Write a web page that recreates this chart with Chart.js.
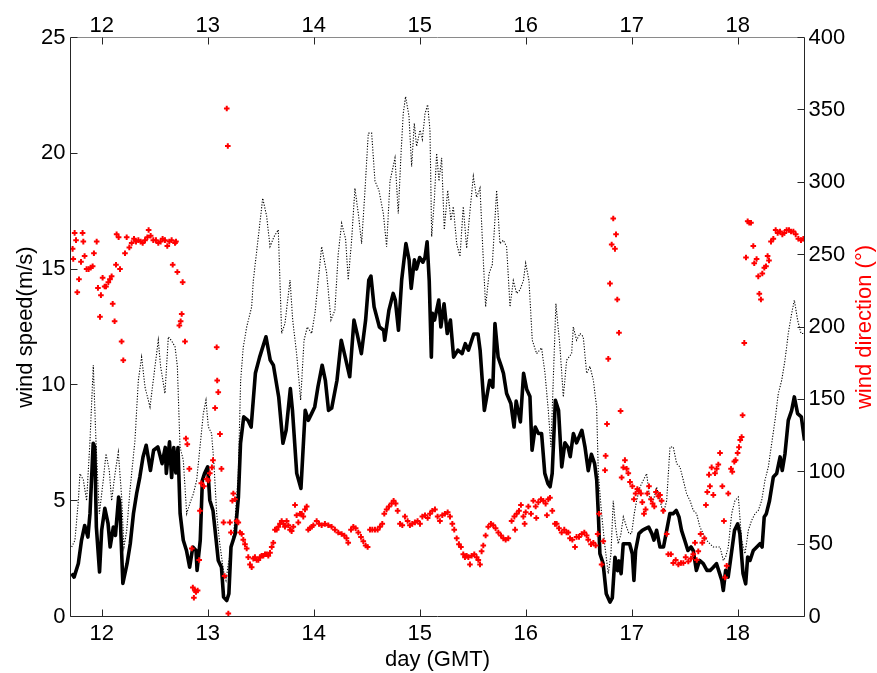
<!DOCTYPE html>
<html>
<head>
<meta charset="utf-8">
<script src="https://cdn.jsdelivr.net/npm/chart.js@4.4.1/dist/chart.umd.min.js"></script>
<style>
  html, body { margin: 0; padding: 0; background: #ffffff; }
  #wrap { width: 877px; height: 673px; }
</style>
</head>
<body>
<div id="wrap"><canvas id="chart" width="877" height="673"></canvas></div>
<script>
// Tick positions for the four axes
const dayTicks = [12, 13, 14, 15, 16, 17, 18];
const speedTicks = [0, 5, 10, 15, 20, 25];
const dirTicks = [0, 50, 100, 150, 200, 250, 300, 350, 400];

// Mean wind speed (m/s) against day of month (GMT)
const speedDay = [
  11.716, 11.74, 11.78, 11.81, 11.84, 11.87, 11.89, 11.92, 11.935, 11.95,
  11.98, 12.00, 12.03, 12.06, 12.08, 12.11, 12.13, 12.16, 12.17, 12.20,
  12.24, 12.27, 12.30, 12.33, 12.36, 12.39, 12.42, 12.46, 12.49, 12.53,
  12.57, 12.60, 12.61, 12.64, 12.66, 12.68, 12.70, 12.72, 12.74, 12.77,
  12.80, 12.83, 12.86, 12.89, 12.90, 12.93, 12.95, 12.97, 13.00, 13.02,
  13.05, 13.08, 13.10, 13.13, 13.15, 13.18, 13.20, 13.22, 13.26, 13.29,
  13.31, 13.34, 13.38, 13.41, 13.45, 13.49, 13.55, 13.59, 13.62, 13.67,
  13.71, 13.74, 13.78, 13.80, 13.84, 13.88, 13.92, 13.95, 13.98, 14.01,
  14.04, 14.08, 14.11, 14.14, 14.17, 14.22, 14.26, 14.29, 14.34, 14.38,
  14.41, 14.45, 14.49, 14.52, 14.54, 14.57, 14.62, 14.66, 14.67, 14.71,
  14.75, 14.77, 14.80, 14.83, 14.87, 14.90, 14.92, 14.95, 14.97, 15.00,
  15.03, 15.05, 15.07, 15.09, 15.11, 15.12, 15.14, 15.18, 15.20, 15.23,
  15.26, 15.29, 15.32, 15.36, 15.40, 15.43, 15.46, 15.51, 15.55, 15.57,
  15.61, 15.66, 15.69, 15.71, 15.74, 15.77, 15.79, 15.82, 15.86, 15.89,
  15.91, 15.95, 15.98, 16.01, 16.04, 16.06, 16.09, 16.12, 16.15, 16.18,
  16.21, 16.23, 16.25, 16.28, 16.31, 16.34, 16.37, 16.40, 16.42, 16.45,
  16.48, 16.53, 16.56, 16.59, 16.62, 16.65, 16.67, 16.685, 16.70, 16.73,
  16.76, 16.795, 16.817, 16.842, 16.867, 16.88, 16.90, 16.92, 16.95, 16.98,
  17.006, 17.021, 17.037, 17.068, 17.10, 17.13, 17.16, 17.19, 17.21, 17.235,
  17.267, 17.30, 17.33, 17.36, 17.39, 17.42, 17.446, 17.47, 17.50, 17.53,
  17.56, 17.58, 17.61, 17.64, 17.675, 17.71, 17.74, 17.77, 17.80, 17.82,
  17.85, 17.864, 17.886, 17.91, 17.94, 17.97, 18.00, 18.02, 18.05, 18.075,
  18.094, 18.116, 18.147, 18.18, 18.21, 18.23, 18.25, 18.27, 18.30, 18.336,
  18.367, 18.40, 18.42, 18.446, 18.477, 18.509, 18.534, 18.565, 18.60, 18.63
];
const speedVal = [
  1.86, 1.70, 2.29, 3.29, 3.93, 3.43, 4.45, 7.48, 7.32, 3.86,
  1.92, 3.72, 4.67, 4.02, 3.0, 3.86, 3.5, 5.16, 4.9, 1.43,
  2.29, 3.15, 4.45, 5.31, 6.02, 6.89, 7.39, 6.31, 7.18, 7.32,
  6.6, 7.3, 6.18, 7.54, 6.0, 7.3, 6.2, 7.3, 4.45, 3.29,
  2.85, 2.13, 3.0, 2.85, 1.99, 3.29, 5.88, 6.17, 6.46, 5.02,
  4.58, 3.29, 2.42, 2.13, 0.84, 0.69, 0.98, 3.0, 3.58, 5.16,
  7.48, 8.62, 8.47, 8.18, 10.5, 11.2, 12.08, 11.07, 10.85, 9.48,
  7.48, 8.04, 9.84, 8.9, 6.18, 5.53, 8.9, 8.47, 8.76, 9.05,
  9.91, 10.85, 10.2, 8.9, 9.0, 10.2, 11.93, 11.35, 10.35, 12.8,
  12.2, 11.35, 12.8, 14.53, 14.7, 13.37, 12.5, 12.36, 11.93, 13.23,
  13.95, 13.66, 12.36, 14.53, 16.1, 15.4, 14.17, 15.4, 15.0, 15.5,
  15.3, 15.5, 16.18, 14.5, 11.2, 13.09, 12.8, 13.66, 12.5, 13.5,
  12.22, 12.8, 11.2, 11.5, 11.35, 11.78, 11.5, 12.2, 12.2, 11.5,
  8.9, 10.2, 9.9, 12.65, 11.2, 10.8, 10.5, 9.63, 9.2, 8.18,
  9.3, 8.4, 10.5, 9.8, 9.5, 7.18, 8.18, 7.9, 7.9, 6.18,
  5.73, 5.6, 6.18, 9.34, 8.9, 6.46, 7.5, 7.3, 6.9, 7.9,
  7.5, 8.04, 7.3, 6.3, 7.0, 6.6, 5.88, 4.44, 2.71, 2.3,
  0.98, 0.62, 0.8, 2.56, 1.98, 2.4, 1.85, 3.14, 3.14, 3.14,
  2.7, 1.56, 2.85, 3.58, 3.72, 3.79, 3.86, 3.58, 3.3, 3.72,
  3.0, 3.0, 3.72, 4.44, 4.44, 4.58, 4.3, 3.72, 3.29, 2.85,
  3.0, 2.85, 1.99, 2.42, 2.28, 1.99, 1.99, 2.13, 2.28, 1.99,
  1.56, 1.12, 1.99, 1.7, 2.71, 3.72, 4.0, 3.58, 1.85, 1.41,
  2.57, 2.42, 2.85, 3.0, 3.14, 3.0, 4.3, 4.44, 5.0, 6.02,
  6.17, 6.89, 6.31, 7.03, 8.47, 8.9, 9.48, 8.76, 8.62, 7.6
];

// Gust speed (m/s), drawn dotted
const gustDay = [
  11.717, 11.748, 11.78, 11.795, 11.827, 11.858, 11.89, 11.921, 11.946, 11.978,
  12.015, 12.041, 12.072, 12.094, 12.126, 12.157, 12.188, 12.21, 12.236, 12.267,
  12.314, 12.346, 12.377, 12.409, 12.456, 12.487, 12.534, 12.556, 12.597, 12.629,
  12.66, 12.692, 12.714, 12.739, 12.77, 12.802, 12.833, 12.865, 12.896, 12.927,
  12.959, 12.984, 13.006, 13.037, 13.059, 13.085, 13.11, 13.148, 13.173, 13.195,
  13.226, 13.258, 13.289, 13.311, 13.336, 13.368, 13.415, 13.431, 13.478, 13.519,
  13.556, 13.588, 13.626, 13.666, 13.698, 13.729, 13.777, 13.802, 13.839, 13.877,
  13.909, 13.94, 13.981, 14.012, 14.075, 14.122, 14.163, 14.2, 14.232, 14.264,
  14.301, 14.326, 14.358, 14.389, 14.421, 14.452, 14.484, 14.515, 14.547, 14.578,
  14.616, 14.657, 14.688, 14.72, 14.767, 14.798, 14.823, 14.845, 14.867, 14.899,
  14.924, 14.949, 14.971, 15.003, 15.025, 15.05, 15.075, 15.097, 15.113, 15.138,
  15.16, 15.182, 15.207, 15.232, 15.264, 15.295, 15.317, 15.349, 15.38, 15.411,
  15.443, 15.474, 15.506, 15.537, 15.569, 15.6, 15.622, 15.654, 15.685, 15.726,
  15.757, 15.789, 15.82, 15.852, 15.883, 15.915, 15.946, 15.978, 16.0, 16.031,
  16.062, 16.103, 16.15, 16.182, 16.213, 16.238, 16.26, 16.285, 16.323, 16.355,
  16.386, 16.433, 16.449, 16.48, 16.512, 16.543, 16.575, 16.606, 16.638, 16.669,
  16.685, 16.716, 16.748, 16.779, 16.804, 16.826, 16.848, 16.873, 16.899, 16.921,
  16.952, 16.974, 16.999, 17.024, 17.046, 17.078, 17.109, 17.141, 17.172, 17.204,
  17.235, 17.267, 17.298, 17.33, 17.361, 17.392, 17.424, 17.455, 17.487, 17.518,
  17.55, 17.581, 17.612, 17.644, 17.675, 17.707, 17.738, 17.77, 17.801, 17.833,
  17.864, 17.886, 17.911, 17.943, 17.974, 18.006, 18.037, 18.069, 18.1, 18.131,
  18.163, 18.194, 18.226, 18.257, 18.289, 18.32, 18.352, 18.383, 18.415, 18.446,
  18.477, 18.509, 18.534, 18.565, 18.597, 18.628
];
const gustVal = [
  3.0, 3.3, 5.0, 6.17, 5.9, 5.0, 7.6, 10.85, 7.6, 4.44,
  5.88, 7.03, 6.3, 5.0, 6.17, 7.1, 5.2, 3.0, 3.7, 5.45,
  7.6, 10.2, 11.2, 9.9, 9.05, 10.2, 11.93, 10.8, 9.63, 12.08,
  11.9, 11.65, 10.8, 7.32, 6.75, 4.44, 4.9, 5.3, 5.88, 7.3,
  8.76, 9.34, 8.2, 7.9, 6.6, 4.44, 3.3, 1.99, 1.56, 2.28,
  3.0, 4.15, 6.17, 10.2, 11.64, 12.5, 13.37, 14.53, 16.4, 18.06,
  17.3, 15.97, 16.4, 16.7, 12.22, 12.65, 14.53, 12.8, 11.35, 9.34,
  11.93, 12.5, 12.22, 13.09, 15.97, 14.85, 12.8, 13.23, 15.68, 16.98,
  16.3, 14.53, 16.25, 18.49, 17.4, 16.1, 18.4, 20.87, 20.87, 18.8,
  18.4, 17.4, 15.97, 18.8, 19.8, 17.4, 19.9, 21.73, 22.45, 21.6,
  19.43, 21.3, 20.3, 21.0, 20.6, 21.7, 22.1, 21.0, 16.4, 17.97,
  20.0, 18.8, 19.8, 16.7, 18.4, 17.1, 17.7, 16.1, 15.54, 17.7,
  15.9, 17.5, 19.0, 18.1, 18.5, 15.4, 13.37, 14.8, 15.2, 18.4,
  16.1, 16.25, 15.97, 13.37, 14.5, 13.95, 14.1, 14.5, 15.25, 14.5,
  11.93, 11.35, 11.6, 10.5, 8.9, 7.32, 10.2, 13.5, 11.65, 9.48,
  11.07, 11.35, 12.5, 11.93, 12.22, 12.08, 10.5, 10.8, 10.2, 9.05,
  6.17, 4.44, 3.0, 1.85, 2.7, 5.0, 3.86, 3.14, 3.58, 4.3,
  3.86, 3.58, 3.58, 4.44, 5.0, 5.59, 5.88, 6.17, 5.0, 5.0,
  5.59, 5.0, 4.44, 5.0, 7.32, 7.32, 6.6, 6.46, 5.88, 5.3,
  5.0, 4.58, 4.44, 3.86, 3.58, 3.29, 3.14, 3.0, 3.0, 3.0,
  2.42, 2.57, 3.0, 4.44, 5.0, 5.16, 3.29, 2.71, 3.72, 4.15,
  4.44, 4.58, 5.0, 5.88, 6.46, 7.46, 8.47, 9.63, 10.2, 11.07,
  12.22, 13.09, 13.66, 12.8, 12.22, 12.22
];

// Wind direction (degrees), right axis
const dirDay = [
  11.726, 11.732, 11.745, 11.758, 11.770, 11.786, 11.805, 11.820, 11.827, 11.839,
  11.858, 11.877, 11.896, 11.915, 11.927, 11.953, 11.965, 11.984, 11.993, 12.009,
  12.028, 12.041, 12.063, 12.078, 12.094, 12.104, 12.122, 12.135, 12.141, 12.160,
  12.173, 12.188, 12.204, 12.220, 12.236, 12.261, 12.283, 12.305, 12.324, 12.346,
  12.368, 12.387, 12.409, 12.431, 12.443, 12.462, 12.487, 12.512, 12.534, 12.556,
  12.575, 12.597, 12.619, 12.638, 12.660, 12.670, 12.692, 12.701, 12.714, 12.733,
  12.745, 12.755, 12.764, 12.786, 12.795, 12.808, 12.827, 12.85, 12.86, 12.87,
  12.88, 12.89, 12.905, 12.92, 12.927, 12.94, 12.965, 12.99, 13.006, 13.02,
  13.04, 13.05, 13.07, 13.085, 13.09, 13.10, 13.116, 13.13, 13.15, 13.16,
  13.18, 13.19, 13.195, 13.21, 13.22, 13.233, 13.242, 13.258, 13.273, 13.289,
  13.305, 13.321, 13.336, 13.352, 13.368, 13.383, 13.399, 13.415, 13.431, 13.446,
  13.462, 13.478, 13.494, 13.509, 13.525, 13.541, 13.557, 13.572, 13.588, 13.604,
  13.619, 13.635, 13.651, 13.667, 13.682, 13.698, 13.714, 13.729, 13.745, 13.761,
  13.777, 13.792, 13.808, 13.824, 13.839, 13.855, 13.871, 13.887, 13.902, 13.918,
  13.934, 13.949, 13.965, 13.981, 13.997, 14.028, 14.05, 14.075, 14.106, 14.138,
  14.169, 14.2, 14.232, 14.264, 14.289, 14.31, 14.326, 14.352, 14.374, 14.396,
  14.421, 14.446, 14.468, 14.49, 14.509, 14.531, 14.553, 14.578, 14.603, 14.625,
  14.647, 14.666, 14.688, 14.71, 14.735, 14.754, 14.773, 14.792, 14.814, 14.836,
  14.861, 14.886, 14.908, 14.93, 14.955, 14.98, 15.003, 15.025, 15.05, 15.075,
  15.097, 15.119, 15.144, 15.169, 15.191, 15.213, 15.238, 15.264, 15.286, 15.308,
  15.326, 15.349, 15.37, 15.389, 15.411, 15.427, 15.443, 15.459, 15.474, 15.49,
  15.515, 15.537, 15.553, 15.569, 15.584, 15.6, 15.622, 15.647, 15.672, 15.694,
  15.716, 15.742, 15.767, 15.789, 15.811, 15.836, 15.867, 15.893, 15.90, 15.915,
  15.937, 15.955, 15.978, 15.99, 16.0, 16.025, 16.05, 16.072, 16.094, 16.10,
  16.119, 16.144, 16.166, 16.188, 16.20, 16.213, 16.229, 16.251, 16.276, 16.292,
  16.314, 16.339, 16.364, 16.386, 16.402, 16.418, 16.44, 16.465, 16.48, 16.503,
  16.528, 16.553, 16.575, 16.59, 16.616, 16.638, 16.66, 16.679, 16.691, 16.716,
  16.732, 16.748, 16.754, 16.767, 16.779, 16.795, 16.811, 16.826, 16.842, 16.852,
  16.864, 16.88, 16.895, 16.905, 16.921, 16.936, 16.952, 16.968, 16.984, 17.006,
  17.021, 17.037, 17.053, 17.068, 17.087, 17.1, 17.116, 17.131, 17.147, 17.163,
  17.182, 17.197, 17.213, 17.229, 17.251, 17.267, 17.282, 17.298, 17.33, 17.345,
  17.37, 17.392, 17.415, 17.44, 17.465, 17.487, 17.509, 17.534, 17.559, 17.581,
  17.597, 17.613, 17.628, 17.65, 17.666, 17.685, 17.7, 17.713, 17.729, 17.738,
  17.754, 17.77, 17.786, 17.801, 17.817, 17.833, 17.855, 17.87, 17.88, 17.896,
  17.911, 17.937, 17.949, 17.968, 17.98, 17.999, 18.012, 18.024, 18.037, 18.046,
  18.062, 18.078, 18.094, 18.109, 18.125, 18.147, 18.156, 18.178, 18.194, 18.204,
  18.219, 18.232, 18.251, 18.267, 18.282, 18.295, 18.314, 18.336, 18.358, 18.377,
  18.399, 18.421, 18.44, 18.462, 18.484, 18.503, 18.525, 18.547, 18.572, 18.597,
  18.619
];
const dirVal = [
  254, 247, 265, 260, 224, 233, 245, 265, 259, 249,
  240, 240, 241, 242, 251, 259, 227, 207, 222, 234,
  228, 228, 231, 233, 235, 216, 204, 243, 264, 262,
  240, 190, 177, 251, 262, 255, 258, 261, 259, 260,
  259, 258, 260, 262, 267, 263, 260, 260, 258, 259,
  261, 260, 256, 259, 260, 243, 258, 259, 238, 201,
  204, 209, 231, 190, 123, 119, 102, 47, 20, 13,
  18, 17, 18, 39, 73, 92, 90, 95, 94, 99,
  103, 108, 144, 186, 163, 155, 126, 102, 65, 28,
  351, 325, 2, 65, 58, 80, 85, 81, 66, 65,
  58, 57, 53, 50, 47, 41, 36, 34, 40, 41,
  39, 39, 41, 42, 42, 43, 43, 42, 44, 48,
  51, 60, 60, 62, 64, 66, 64, 62, 66, 63,
  60, 59, 62, 77, 70, 65, 71, 71, 69, 74,
  76, 60, 61, 62, 63, 66, 64, 63, 64, 63,
  62, 60, 58, 57, 56, 54, 51, 60, 62, 61,
  58, 55, 52, 49, 48, 60, 60, 60, 60, 62,
  64, 71, 74, 76, 78, 80, 78, 73, 64, 63,
  69, 66, 63, 64, 65, 66, 64, 69, 70, 68,
  71, 73, 74, 69, 66, 70, 71, 72, 69, 64,
  60, 54, 50, 48, 43, 41, 42, 41, 36, 42,
  43, 41, 39, 36, 45, 49, 56, 62, 64, 63,
  61, 58, 56, 54, 53, 54, 66, 69, 60, 71,
  73, 77, 69, 64, 72, 76, 71, 80, 76, 68,
  79, 81, 80, 78, 70, 81, 82, 73, 64, 64,
  61, 58, 60, 58, 58, 54, 53, 48, 55, 55,
  57, 58, 56, 53, 50, 51, 49, 57, 71, 36,
  52, 101, 111, 133, 178, 230, 257, 275, 254, 264,
  219, 196, 142, 96, 103, 108, 102, 99, 93, 90,
  81, 85, 88, 87, 85, 79, 71, 74, 85, 90,
  81, 78, 76, 86, 83, 84, 80, 73, 57, 43,
  43, 37, 39, 36, 37, 37, 41, 38, 40, 43,
  51, 39, 45, 57, 51, 54, 77, 86, 98, 90,
  103, 84, 99, 102, 105, 113, 90, 66, 27, 35,
  85, 102, 100, 107, 108, 113, 117, 122, 124, 139,
  189, 248, 273, 272, 272, 256, 244, 247, 235, 223,
  219, 237, 241, 242, 249, 246, 259, 261, 267, 265,
  266, 264, 265, 267, 267, 266, 266, 264, 261, 260,
  261
];

const FONT = '"Liberation Sans", Arial, Helvetica, sans-serif';
const toPoints = (xs, ys) => xs.map((x, i) => ({ x: x, y: ys[i] }));
const fixedTicks = list => scale => { scale.ticks = list.map(v => ({ value: v })); };

// Frame, inward tick marks and axis titles
const framePlugin = {
  id: 'framePlugin',
  afterDatasetsDraw(chart) {
    const { ctx, chartArea: a, scales } = chart;
    const L = a.left, R = a.right, T = a.top, B = a.bottom;
    const len = 7;
    ctx.save();
    ctx.lineWidth = 1;
    ctx.strokeStyle = '#262626';
    ctx.beginPath();
    ctx.moveTo(L, T); ctx.lineTo(L, B); ctx.lineTo(R, B); ctx.lineTo(R, T);
    ctx.stroke();
    ctx.strokeStyle = '#8a8a8a';
    ctx.beginPath();
    ctx.moveTo(L, T); ctx.lineTo(R, T);
    ctx.stroke();
    ctx.strokeStyle = '#262626';
    ctx.beginPath();
    dayTicks.forEach(v => {
      const x = Math.round(scales.x.getPixelForValue(v)) + 0.5;
      ctx.moveTo(x, B); ctx.lineTo(x, B - len);
      ctx.moveTo(x, T); ctx.lineTo(x, T + len);
    });
    speedTicks.forEach(v => {
      const y = Math.round(scales.y.getPixelForValue(v) - 0.5) + 0.5;
      ctx.moveTo(L, y); ctx.lineTo(L + len, y);
    });
    dirTicks.forEach(v => {
      const y = Math.round(scales.y2.getPixelForValue(v) - 0.5) + 0.5;
      ctx.moveTo(R, y); ctx.lineTo(R - len, y);
    });
    ctx.stroke();
    ctx.restore();
  },
  afterDraw(chart) {
    const { ctx, chartArea: a } = chart;
    const midY = (a.top + a.bottom) / 2;
    ctx.save();
    ctx.font = '22px ' + FONT;
    ctx.textAlign = 'center';
    ctx.textBaseline = 'middle';
    ctx.fillStyle = '#000';
    ctx.fillText('day (GMT)', (a.left + a.right) / 2, 660);
    ctx.save();
    ctx.translate(26, midY);
    ctx.rotate(-Math.PI / 2);
    ctx.fillText('wind speed(m/s)', 0, 0);
    ctx.restore();
    ctx.save();
    ctx.translate(865, midY);
    ctx.rotate(-Math.PI / 2);
    ctx.fillStyle = '#ff0000';
    ctx.fillText('wind direction (\u00B0)', 0, 0);
    ctx.restore();
    ctx.restore();
  }
};

const tickFont = { family: FONT, size: 22 };
const noGrid = { display: false, drawTicks: false, tickLength: 0 };

new Chart(document.getElementById('chart'), {
  type: 'scatter',
  data: {
    datasets: [
      {
        label: 'wind direction',
        data: toPoints(dirDay, dirVal),
        yAxisID: 'y2',
        showLine: false,
        pointStyle: 'cross',
        pointRadius: 2.8,
        pointBorderWidth: 2,
        pointBorderColor: '#ff0000',
        pointBackgroundColor: '#ff0000',
        order: 0
      },
      {
        label: 'wind speed',
        data: toPoints(speedDay, speedVal),
        yAxisID: 'y',
        showLine: true,
        borderColor: '#000000',
        borderWidth: 3.6,
        borderJoinStyle: 'round',
        pointRadius: 0,
        tension: 0,
        order: 1
      },
      {
        label: 'gust',
        data: toPoints(gustDay, gustVal),
        yAxisID: 'y',
        showLine: true,
        borderColor: '#000000',
        borderWidth: 1.1,
        borderDash: [1.2, 1.6],
        pointRadius: 0,
        tension: 0,
        order: 2
      }
    ]
  },
  options: {
    responsive: false,
    animation: false,
    devicePixelRatio: 1,
    layout: { padding: 0 },
    plugins: { legend: { display: false }, tooltip: { enabled: false } },
    scales: {
      x: {
        type: 'linear', position: 'bottom', min: 11.706, max: 18.63,
        afterBuildTicks: fixedTicks(dayTicks),
        afterFit: s => { s.height = 56.5; },
        grid: noGrid, border: { display: false },
        ticks: { font: tickFont, color: '#000', padding: 4, maxRotation: 0, autoSkip: false }
      },
      x2: {
        type: 'linear', position: 'top', min: 11.706, max: 18.63,
        afterBuildTicks: fixedTicks(dayTicks),
        afterFit: s => { s.height = 37.5; },
        grid: noGrid, border: { display: false },
        ticks: { font: tickFont, color: '#000', padding: -2, maxRotation: 0, autoSkip: false }
      },
      y: {
        type: 'linear', position: 'left', min: 0, max: 25,
        afterBuildTicks: fixedTicks(speedTicks),
        afterFit: s => { s.width = 70.5; },
        grid: noGrid, border: { display: false },
        ticks: { font: tickFont, color: '#000', padding: 5 }
      },
      y2: {
        type: 'linear', position: 'right', min: 0, max: 400,
        afterBuildTicks: fixedTicks(dirTicks),
        afterFit: s => { s.width = 72.5; },
        grid: noGrid, border: { display: false },
        ticks: { font: tickFont, color: '#000', padding: 4 }
      }
    }
  },
  plugins: [framePlugin]
});
</script>
</body>
</html>
